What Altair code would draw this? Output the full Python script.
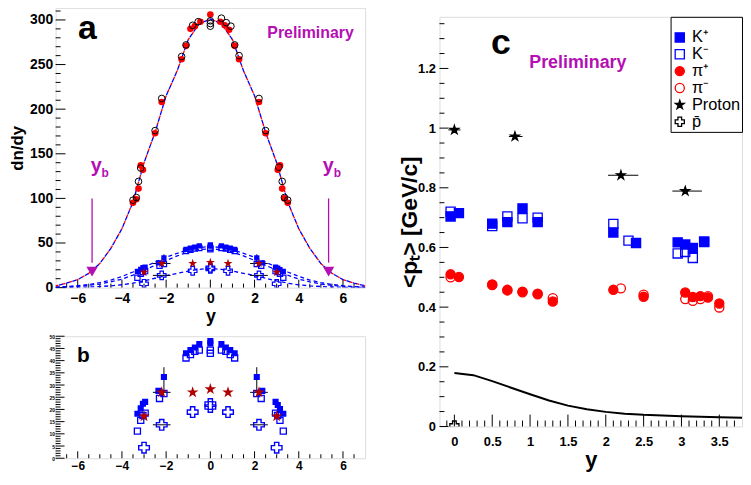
import altair as alt
import pandas as pd

FONT = "Liberation Sans"
BLUE = "#0000ff"
RED = "#ff0000"
DRED = "#b00000"
MAG = "#b30fb3"
FRAME = "#000000"
STAR = ("M0,-1L0.2245,-0.309L0.951,-0.309L0.363,0.118L0.588,0.809L0,0.382"
        "L-0.588,0.809L-0.363,0.118L-0.951,-0.309L-0.2245,-0.309Z")

# ---------------- panel a / b data (rapidity, dn/dy) ----------------
pip_y = [-3.5, -3.35, -3.25, -3.15, -3.05, -2.5, -2.2, -1.3, -1.1, -0.9, -0.7, -0.45, 0.0,
         0.45, 0.65, 0.85, 1.1, 1.3, 2.2, 2.5, 3.05, 3.15, 3.25, 3.35, 3.5]
pip_v = [95, 99, 111, 137, 132, 173, 208, 256, 271, 290, 293, 298, 306,
         298, 294, 289, 271, 256, 208, 173, 132, 137, 111, 100, 95]
pim_y = [-3.5, -3.35, -3.25, -3.15, -2.5, -2.2, -1.3, -1.1, -0.8, -0.55, 0.0, 0.0, 0.0,
         0.5, 0.72, 0.93, 1.1, 1.3, 2.2, 2.5, 3.1, 3.25, 3.35, 3.5]
pim_v = [98, 101, 119, 134, 176, 212, 259, 272, 294, 298, 299, 296, 293,
         302, 297, 293, 272, 260, 212, 176, 135, 119, 101, 98]

kp_y = [-3.3, -3.15, -3.05, -2.95, -2.35, -2.1, -1.1, -0.9, -0.7, -0.5, 0.0, 0.0,
        0.5, 0.7, 0.9, 1.1, 2.1, 2.35, 2.95, 3.05, 3.15, 3.3]
kp_v = [18.2, 20.5, 22.3, 23.1, 27.6, 33.3, 43.0, 44.3, 45.4, 46.8, 47.0, 48.0,
        46.8, 45.4, 44.3, 43.0, 33.3, 27.6, 23.1, 21.8, 20.1, 18.2]
km_y = [-3.3, -3.15, -3.05, -2.95, -2.3, -2.1, -1.1, -0.9, -0.7, -0.5, 0.0, 0.0,
        0.5, 0.7, 0.9, 1.1, 2.1, 2.3, 2.95, 3.05, 3.15, 3.3]
km_v = [11.1, 15.5, 17.5, 18.5, 24.5, 26.5, 41.1, 42.5, 43.8, 44.3, 43.0, 44.3,
        44.3, 43.8, 42.5, 41.1, 26.5, 24.5, 18.5, 17.5, 15.5, 11.1]
prot_y = [-3.0, -2.2, -0.8, 0.0, 0.8, 2.2, 3.0]
prot_v = [17.2, 27.0, 27.0, 28.3, 27.0, 27.0, 17.2]
pbar_y = [-3.0, -2.2, -0.8, 0.0, 0.0, 0.8, 2.2, 3.0]
pbar_v = [4.3, 13.7, 18.9, 22.2, 21.0, 18.9, 13.7, 4.3]

# error bars
kerr_y = [-2.1, 2.1]
kerr_lo = [27.9, 27.9]
kerr_hi = [37.3, 37.3]
herr_v = [27.0, 27.0, 13.7, 13.7]
herr_lo = [-2.6, 1.8, -2.6, 1.8]
herr_hi = [-1.8, 2.6, -1.8, 2.6]

# fitted curves
curve_y = [-7, -6.5, -6, -5.5, -5, -4.5, -4, -3.5, -3, -2.5, -2, -1.5, -1, -0.5, 0,
           0.5, 1, 1.5, 2, 2.5, 3, 3.5, 4, 4.5, 5, 5.5, 6, 6.5, 7]
curve_pi = [2, 5, 9, 16, 27, 44, 66, 96, 140, 174, 215, 243, 278, 296, 301,
            296, 278, 243, 215, 174, 140, 96, 66, 44, 27, 16, 9, 5, 2]
curve_kp = [0.6, 1.2, 2.2, 3.5, 5.5, 8.5, 12.5, 17.5, 23, 28.5, 34, 38.5, 42.5, 45, 46,
            45, 42.5, 38.5, 34, 28.5, 23, 17.5, 12.5, 8.5, 5.5, 3.5, 2.2, 1.2, 0.6]
curve_km = [0.4, 0.8, 1.5, 2.5, 4, 6.5, 9.5, 14, 19.5, 25, 30.5, 35.5, 40, 42.5, 43.5,
            42.5, 40, 35.5, 30.5, 25, 19.5, 14, 9.5, 6.5, 4, 2.5, 1.5, 0.8, 0.4]
curve_pb = [0.1, 0.2, 0.4, 0.7, 1.2, 2, 3.2, 5, 7.5, 10.5, 13.5, 16, 18.5, 20.5, 21.5,
            20.5, 18.5, 16, 13.5, 10.5, 7.5, 5, 3.2, 2, 1.2, 0.7, 0.4, 0.2, 0.1]

yb_pos = [-5.35, 5.35]
yb_top = [100, 100]
yb_bot = [28, 28]
yb_head = [18, 18]

# ---------------- panel c data (rapidity, <pT>) ----------------
c_kp_x = [-0.05, 0.06, 0.5, 0.7, 0.9, 1.1, 2.1, 2.4, 2.95, 3.05, 3.15, 3.3]
c_kp_v = [0.704, 0.715, 0.680, 0.685, 0.731, 0.685, 0.650, 0.615, 0.617, 0.610, 0.598, 0.618]
c_km_x = [-0.05, 0.5, 0.7, 0.9, 1.1, 2.1, 2.3, 2.95, 3.05, 3.15, 3.3]
c_km_v = [0.720, 0.672, 0.704, 0.698, 0.700, 0.679, 0.623, 0.580, 0.585, 0.565, 0.620]
c_pip_x = [-0.05, 0.06, 0.5, 0.7, 0.9, 1.1, 1.3, 2.1, 2.5, 3.05, 3.15, 3.25, 3.35, 3.5]
c_pip_v = [0.510, 0.501, 0.476, 0.458, 0.452, 0.445, 0.419, 0.458, 0.435, 0.449, 0.434,
           0.437, 0.432, 0.412]
c_pim_x = [-0.05, 0.5, 0.7, 0.9, 1.1, 1.3, 2.2, 2.5, 3.05, 3.15, 3.25, 3.35, 3.5]
c_pim_v = [0.500, 0.474, 0.456, 0.450, 0.443, 0.430, 0.463, 0.442, 0.427, 0.421, 0.427,
           0.437, 0.399]
c_p_x = [0.0, 0.8, 2.2, 3.05]
c_p_v = [0.994, 0.972, 0.842, 0.789]
c_p_lo = [-0.08, 0.72, 2.03, 2.88]
c_p_hi = [0.08, 0.90, 2.43, 3.27]
c_pb_x = [0.0]
c_pb_v = [0.003]
c_curve_x = [0, 0.25, 0.5, 0.75, 1.0, 1.25, 1.5, 1.75, 2.0, 2.25, 2.5, 3.0, 3.5, 3.9]
c_curve_v = [0.179, 0.172, 0.152, 0.130, 0.108, 0.087, 0.070, 0.058, 0.049, 0.043,
             0.039, 0.034, 0.031, 0.029]

species = ["K\u207a", "K\u207b", "\u03c0\u207a", "\u03c0\u207b", "Proton", "p\u0304"]

# ---------------- helpers ----------------
def frame(xs, vs, **extra):
    d = {"x": xs, "v": vs}
    d.update(extra)
    return pd.DataFrame(d)


class Panel:
    def __init__(self, xdom, ydom, w, h, xaxis, yaxis):
        self.xs = alt.Scale(domain=xdom, nice=False, zero=False)
        self.ys = alt.Scale(domain=ydom, nice=False, zero=False)
        self.w, self.h = w, h
        self.xaxis, self.yaxis = xaxis, yaxis
        self.layers = []

    def X(self, f="x"):
        return alt.X(f + ":Q", scale=self.xs, axis=self.xaxis)

    def Y(self, f="v"):
        return alt.Y(f + ":Q", scale=self.ys, axis=self.yaxis)

    def points(self, xs, vs, **mk):
        mk.setdefault("opacity", 1)
        self.layers.append(alt.Chart(frame(xs, vs)).mark_point(clip=True, **mk)
                           .encode(x=self.X(), y=self.Y()))

    def line(self, xs, vs, **mk):
        self.layers.append(alt.Chart(frame(xs, vs)).mark_line(clip=True, **mk)
                           .encode(x=self.X(), y=self.Y()))

    def vbars(self, xs, lo, hi, **mk):
        self.layers.append(alt.Chart(pd.DataFrame({"x": xs, "v": lo, "hi": hi}))
                           .mark_rule(**mk).encode(x=self.X(), y=self.Y(), y2="hi:Q"))

    def hbars(self, vs, lo, hi, **mk):
        self.layers.append(alt.Chart(pd.DataFrame({"x": lo, "v": vs, "hi": hi}))
                           .mark_rule(**mk).encode(x=self.X(), x2="hi:Q", y=self.Y()))

    def xticks(self, vals, length):
        self.layers.append(alt.Chart(pd.DataFrame({"x": vals})).mark_rule(color=FRAME, strokeWidth=1)
                           .encode(x=self.X(), y=alt.value(self.h), y2=alt.value(self.h - length)))

    def yticks(self, vals, length):
        self.layers.append(alt.Chart(pd.DataFrame({"v": vals})).mark_rule(color=FRAME, strokeWidth=1)
                           .encode(y=self.Y(), x=alt.value(0), x2=alt.value(length)))

    def text(self, t, px, py, **mk):
        self.layers.append(alt.Chart(pd.DataFrame({"t": [t]}))
                           .mark_text(font=FONT, fontWeight="bold", align="center", baseline="alphabetic", **mk)
                           .encode(x=alt.value(px), y=alt.value(py), text="t:N"))

    def chart(self):
        return alt.layer(*self.layers).properties(width=self.w, height=self.h)


def axis(values, size, pad, title=None, tsize=0, tpad=0, fmt="~g"):
    kw = dict(values=values, ticks=False, domain=False, grid=False, format=fmt,
              labelFont=FONT, labelFontSize=size, labelFontWeight="bold", labelColor="black",
              labelPadding=pad, labelFlush=False, labelOverlap=False)
    if title:
        kw.update(title=title, titleFont=FONT, titleFontSize=tsize, titleFontWeight="bold",
                  titleColor="black", titlePadding=tpad)
    else:
        kw.update(title=None)
    return alt.Axis(**kw)


ev2 = [-6, -4, -2, 0, 2, 4, 6]
half_steps = [i * 0.5 for i in range(-13, 14) if i % 4 != 0]

# ---------------- panel a ----------------
A = Panel([-7, 7], [0, 313.5], 312, 282,
          axis(ev2, 14, 4, "y", 18, 2, "d"),
          axis(list(range(0, 301, 50)), 14, 3, "dn/dy", 17, 3, "d"))
A.xticks(ev2, 8)
A.xticks(half_steps, 4)
A.yticks(list(range(0, 301, 50)), 10)
A.yticks([v for v in range(10, 311, 10) if v % 50 != 0], 5)
A.line(curve_y, curve_pb, color=BLUE, strokeWidth=1.3, strokeDash=[4, 3])
A.line(curve_y, curve_km, color=BLUE, strokeWidth=1.3, strokeDash=[4, 3])
A.line(curve_y, curve_kp, color=BLUE, strokeWidth=1.3, strokeDash=[4, 3])
A.line(curve_y, curve_pi, color=RED, strokeWidth=1.3, strokeDash=[3, 4])
A.line(curve_y, curve_pi, color=BLUE, strokeWidth=1.3, strokeDash=[4, 3], strokeDashOffset=3.5)
A.vbars(kerr_y, kerr_lo, kerr_hi, color="black", strokeWidth=1)
A.hbars(herr_v, herr_lo, herr_hi, color="black", strokeWidth=1)
A.points(pbar_y, pbar_v, shape="cross", filled=False, color=BLUE, size=75, strokeWidth=1.2)
A.points(km_y, km_v, shape="square", filled=False, color=BLUE, size=28, strokeWidth=1.2)
A.points(kp_y, kp_v, shape="square", filled=True, color=BLUE, size=28)
A.points(prot_y, prot_v, shape=STAR, filled=True, color=DRED, size=90)
A.points(pip_y, pip_v, shape="circle", filled=True, color=RED, size=45)
A.points(pim_y, pim_v, shape="circle", filled=False, color="black", size=45, strokeWidth=1)
# y_b arrows
A.layers.append(alt.Chart(pd.DataFrame({"x": yb_pos, "v": yb_top, "hi": yb_bot}))
                .mark_rule(color=MAG, strokeWidth=1.3).encode(x=A.X(), y=A.Y(), y2="hi:Q"))
A.points(yb_pos, yb_head, shape="triangle-down", filled=True, color=MAG, size=130)
A.text("a", 32, 31, fontSize=34)
A.text("Preliminary", 257, 30.5, fontSize=16, color=MAG)
A.text("y", 41, 165.5, fontSize=20, color=MAG)
A.text("b", 50, 170, fontSize=12, color=MAG)
A.text("y", 275, 165.5, fontSize=20, color=MAG)
A.text("b", 284, 170, fontSize=12, color=MAG)

# ---------------- panel b ----------------
B = Panel([-7, 7], [0, 50], 312, 123,
          axis(ev2, 12, 2, fmt="d"),
          axis(list(range(0, 51, 5)), 5, 1, fmt="d"))
B.xticks(ev2, 7)
B.xticks(half_steps, 4)
B.yticks(list(range(0, 51, 5)), 9)
B.yticks([v for v in range(1, 50) if v % 5 != 0], 5)
B.vbars(kerr_y, kerr_lo, kerr_hi, color="black", strokeWidth=1)
B.hbars(herr_v, herr_lo, herr_hi, color="black", strokeWidth=1)
B.points(pbar_y, pbar_v, shape="cross", filled=False, color=BLUE, size=115, strokeWidth=1.4)
B.points(km_y, km_v, shape="square", filled=False, color=BLUE, size=38, strokeWidth=1.3)
B.points(kp_y, kp_v, shape="square", filled=True, color=BLUE, size=38)
B.points(prot_y, prot_v, shape=STAR, filled=True, color=DRED, size=150)
B.text("b", 28, 26, fontSize=21)

# ---------------- panel c ----------------
C = Panel([-0.197, 3.8], [0, 1.373], 305, 413,
          axis([0, 0.5, 1, 1.5, 2, 2.5, 3, 3.5], 13, 9, "y", 22, 1),
          axis([0, 0.2, 0.4, 0.6, 0.8, 1.0, 1.2], 13, 4, "<p\u209c> [GeV/c]", 23, -4))
C.xticks([0, 0.5, 1, 1.5, 2, 2.5, 3, 3.5], 12)
C.xticks([i / 10 for i in range(-1, 38) if i % 5 != 0], 6)
C.yticks([0, 0.2, 0.4, 0.6, 0.8, 1.0, 1.2], 9)
C.yticks([i / 100 for i in range(5, 137, 5) if i % 20 != 0], 5)
C.line(c_curve_x, c_curve_v, color="black", strokeWidth=2)
C.hbars(c_p_v, c_p_lo, c_p_hi, color="black", strokeWidth=1)

c_rows = []
for name, xs, vs in [(species[0], c_kp_x, c_kp_v), (species[1], c_km_x, c_km_v),
                     (species[2], c_pip_x, c_pip_v), (species[3], c_pim_x, c_pim_v),
                     (species[4], c_p_x, c_p_v), (species[5], c_pb_x, c_pb_v)]:
    for x, v in zip(xs, vs):
        c_rows.append({"x": x, "v": v, "sp": name})
c_df = pd.DataFrame(c_rows)

leg = alt.Legend(orient="top-right", offset=0, title=" ", titleFontSize=9.5, titlePadding=2,
                 fillColor="white", strokeColor="black", padding=1, labelFont=FONT,
                 labelFontSize=16.5, labelColor="black", rowPadding=0, labelOffset=4,
                 symbolStrokeWidth=1.3, labelLimit=50)
dom = species
C.layers.append(
    alt.Chart(c_df).mark_point(opacity=1, strokeWidth=1.3, clip=True).encode(
        x=C.X(), y=C.Y(),
        shape=alt.Shape("sp:N", scale=alt.Scale(domain=dom, range=["square", "square", "circle", "circle", STAR, "cross"]), legend=leg),
        stroke=alt.Stroke("sp:N", scale=alt.Scale(domain=dom, range=[BLUE, BLUE, RED, RED, "black", "black"]), legend=leg),
        fill=alt.Fill("sp:N", scale=alt.Scale(domain=dom, range=[BLUE, "transparent", RED, "transparent", "black", "transparent"]), legend=leg),
        size=alt.Size("sp:N", scale=alt.Scale(domain=dom, range=[85, 85, 75, 75, 130, 75]), legend=leg),
    )
)
C.text("c", 62, 37, fontSize=36)
C.text("Preliminary", 139.5, 52, fontSize=18, color=MAG)

spacer = (alt.Chart(pd.DataFrame({"x": [0], "v": [0]})).mark_point(opacity=0)
          .encode(x=alt.X("x:Q", axis=None), y=alt.Y("v:Q", axis=None))
          .properties(width=305, height=1, view=alt.ViewBackground(strokeOpacity=0)))

left = alt.vconcat(A.chart(), B.chart(), spacing=49, bounds="flush").resolve_scale(x="independent", y="independent")
right = (alt.vconcat(spacer, C.chart(), spacing=8, bounds="flush")
         .resolve_scale(x="independent", y="independent", shape="independent", fill="independent",
                        stroke="independent", size="independent"))
chart = (alt.hconcat(left, right, spacing=32)
         .resolve_scale(x="independent", y="independent", shape="independent", fill="independent",
                        stroke="independent", size="independent")
         .properties(padding={"left": 0, "top": -5, "right": 0, "bottom": 0})
         .configure_view(stroke=FRAME, strokeWidth=1)
         .configure(background="white"))

chart.save("out.html", embed_options={"renderer": "svg", "actions": False})
